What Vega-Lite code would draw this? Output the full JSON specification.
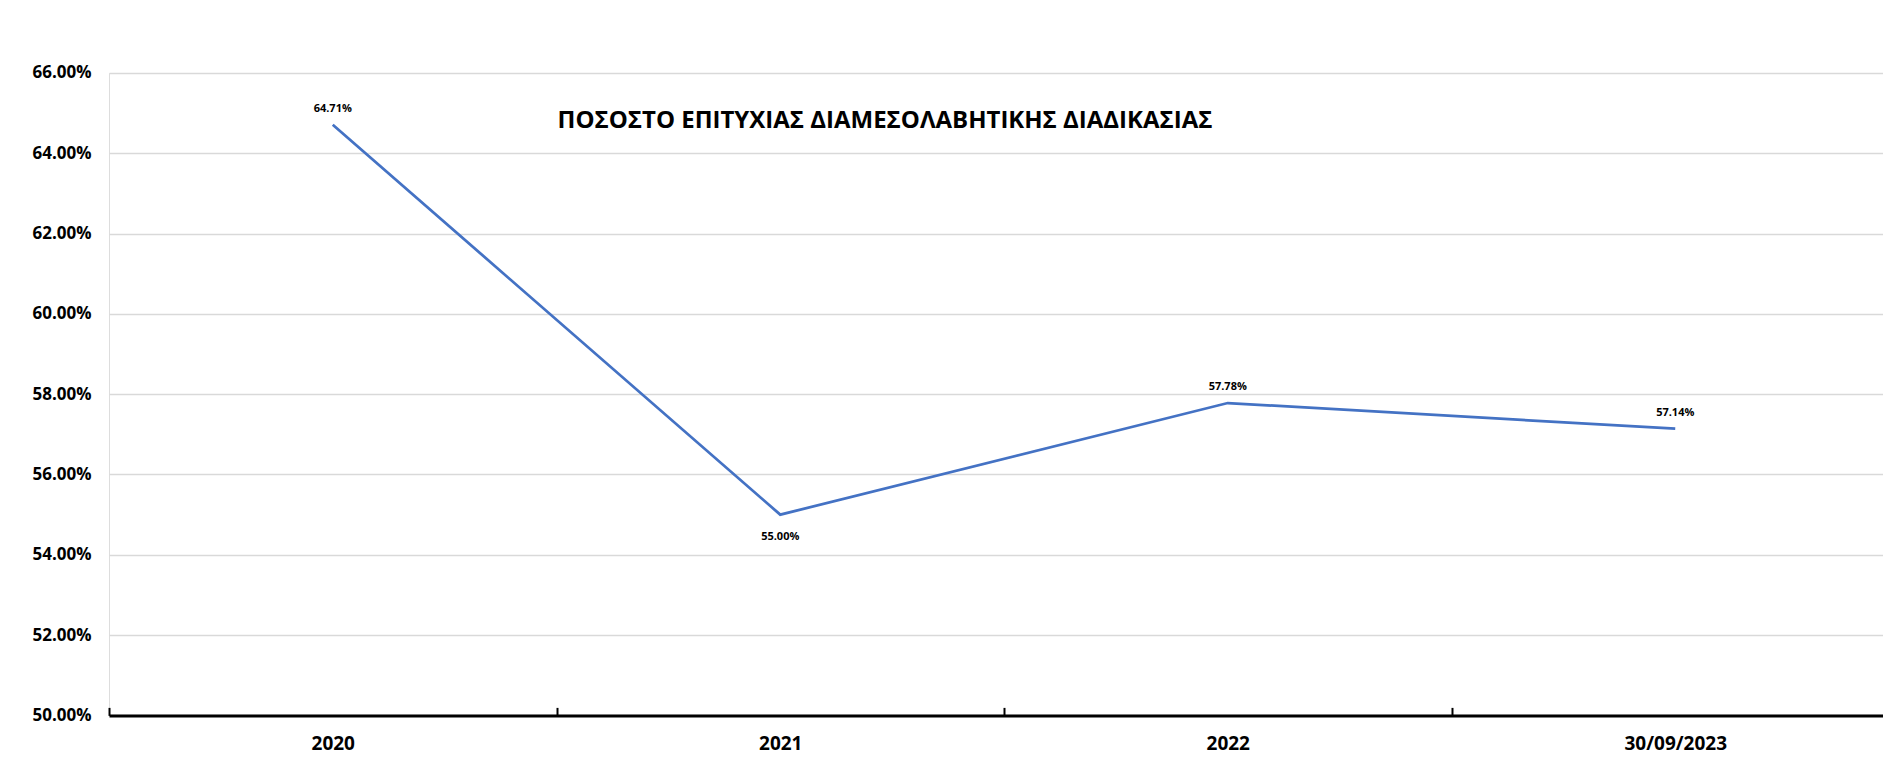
{
  "$schema": "https://vega.github.io/schema/vega-lite/v6.json",
  "autosize": {"type": "none"},
  "padding": {"left": 109, "top": 73, "right": 0, "bottom": 50},
  "width": 1774,
  "height": 642.4,
  "background": "white",
  "title": {
    "text": "ΠΟΣΟΣΤΟ ΕΠΙΤΥΧΙΑΣ ΔΙΑΜΕΣΟΛΑΒΗΤΙΚΗΣ ΔΙΑΔΙΚΑΣΙΑΣ",
    "orient": "top",
    "anchor": "middle",
    "frame": "group",
    "offset": 0,
    "baseline": "middle",
    "dx": -111,
    "dy": 81,
    "font": "Open Sans",
    "fontSize": 24,
    "fontWeight": "bold",
    "color": "#000000"
  },
  "data": {
    "values": [
      {"period": "2020", "rate": 0.6471},
      {"period": "2021", "rate": 0.55},
      {"period": "2022", "rate": 0.5778},
      {"period": "30/09/2023", "rate": 0.5714}
    ]
  },
  "encoding": {
    "x": {
      "field": "period",
      "type": "nominal",
      "sort": null,
      "scale": {"type": "band", "range": [0, 1790], "paddingInner": 0, "paddingOuter": 0},
      "axis": {
        "title": null,
        "grid": false,
        "labelAngle": 0,
        "domainColor": "#000000",
        "domainWidth": 3,
        "tickColor": "#000000",
        "tickWidth": 2,
        "tickSize": -8,
        "tickBand": "extent",
        "labelFont": "Open Sans",
        "labelFontSize": 19,
        "labelFontWeight": "bold",
        "labelColor": "#000000",
        "labelPadding": 27
      }
    },
    "y": {
      "field": "rate",
      "type": "quantitative",
      "scale": {"domain": [0.5, 0.66], "nice": false, "zero": false},
      "axis": {
        "title": null,
        "domain": false,
        "ticks": false,
        "values": [0.5, 0.52, 0.54, 0.56, 0.58, 0.6, 0.62, 0.64, 0.66],
        "format": ".2%",
        "labelFont": "Open Sans",
        "labelFontSize": 17,
        "labelFontWeight": "bold",
        "labelColor": "#000000",
        "labelPadding": 18,
        "gridColor": "#D9D9D9",
        "gridWidth": 1.3
      }
    }
  },
  "layer": [
    {"mark": {"type": "line", "color": "#4472C4", "strokeWidth": 2.75}},
    {
      "transform": [{"filter": "datum.period != '2021'"}],
      "mark": {"type": "text", "dy": -16, "font": "Open Sans", "fontSize": 11, "fontWeight": "bold", "color": "#000000"},
      "encoding": {"text": {"field": "rate", "type": "quantitative", "format": ".2%"}}
    },
    {
      "transform": [{"filter": "datum.period == '2021'"}],
      "mark": {"type": "text", "dy": 22, "font": "Open Sans", "fontSize": 11, "fontWeight": "bold", "color": "#000000"},
      "encoding": {"text": {"field": "rate", "type": "quantitative", "format": ".2%"}}
    }
  ]
}
